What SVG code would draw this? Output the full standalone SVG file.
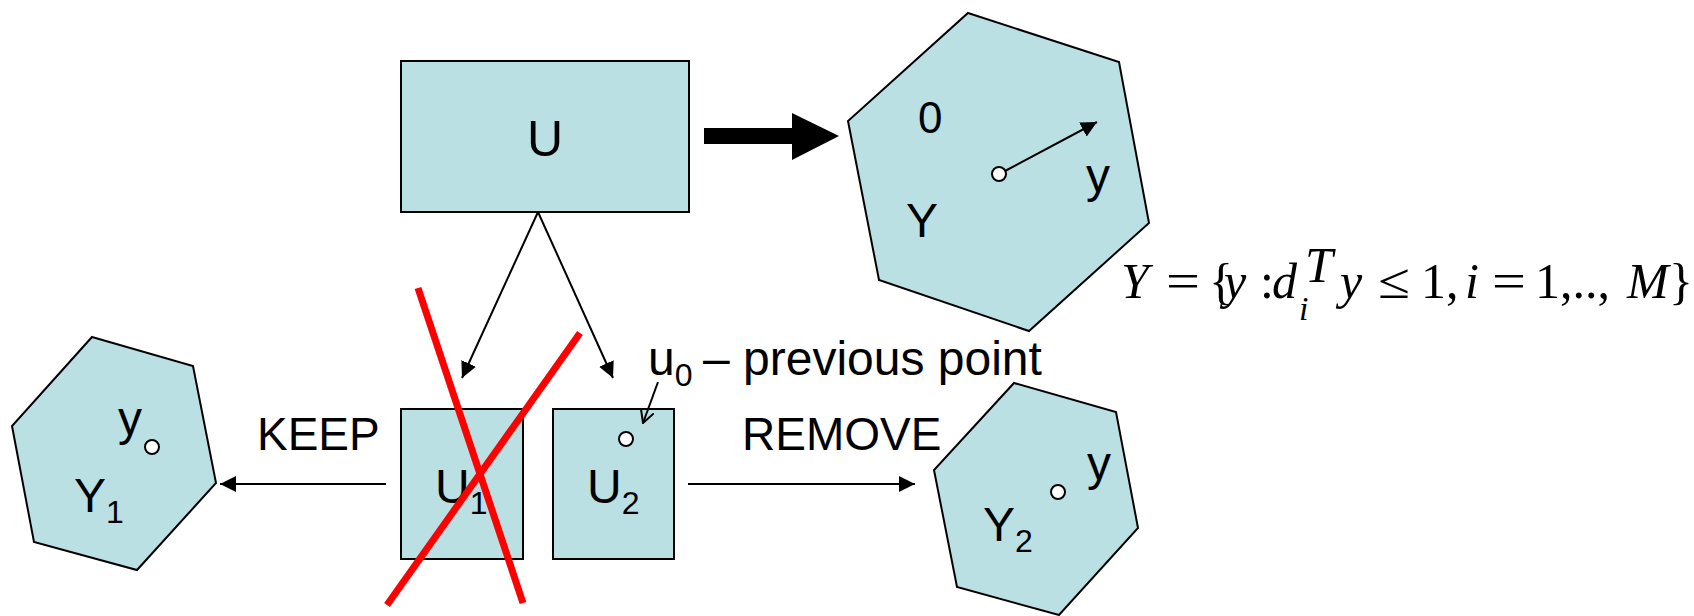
<svg xmlns="http://www.w3.org/2000/svg" width="1694" height="616" viewBox="0 0 1694 616">
<style>
.shape{fill:#BBE0E3;stroke:#000;stroke-width:2}
.lbl{font-family:"Liberation Sans",Arial,sans-serif;fill:#000}
.math{font-family:"Liberation Serif","Times New Roman",serif;fill:#000;font-size:50px}
.it{font-style:italic}
.sm{font-size:34px}
.dot{fill:#fff;stroke:#000;stroke-width:2}
.conn{stroke:#000;stroke-width:2;fill:none}
.red{stroke:#FF0000;stroke-width:7;fill:none}
</style>
<defs>
<marker id="ah" viewBox="0 0 16 16" refX="16" refY="8" markerWidth="16" markerHeight="16" markerUnits="userSpaceOnUse" orient="auto">
<path d="M0,0 L16,8 L0,16 Z" fill="#000"/>
</marker>
<marker id="open" viewBox="0 0 14 14" refX="13" refY="7" markerWidth="14" markerHeight="14" markerUnits="userSpaceOnUse" orient="auto">
<path d="M0,0 L13,7 L0,14" fill="none" stroke="#000" stroke-width="2"/>
</marker>
</defs>

<g id="node-U">
<rect class="shape" x="401" y="61" width="288" height="151"/>
<text class="lbl" x="545" y="156" font-size="50" text-anchor="middle">U</text>
</g>

<g id="node-Y">
<polygon class="shape" points="968,13 1119,62 1149,223 1029,331 879,280 848,121"/>
<text class="lbl" x="918" y="133" font-size="44">0</text>
<text class="lbl" x="1086" y="192" font-size="48">y</text>
<text class="lbl" x="906" y="237" font-size="48">Y</text>
<circle class="dot" cx="999" cy="174" r="7"/>
</g>

<g id="formula">
<text class="math it" x="1121" y="298">Y</text>
<text class="math" x="1166" y="298" textLength="34" lengthAdjust="spacingAndGlyphs">=</text>
<text class="math" x="1209" y="298">{</text>
<text class="math it" x="1224" y="298">y</text>
<text class="math" x="1260" y="298">:</text>
<text class="math it" x="1272" y="298">d</text>
<text class="math it sm" x="1299" y="320">i</text>
<text class="math it" x="1305" y="282" font-size="36">T</text>
<text class="math it" x="1340" y="298">y</text>
<text class="math" x="1378" y="298" textLength="32" lengthAdjust="spacingAndGlyphs">≤</text>
<text class="math" x="1421" y="298">1,</text>
<text class="math it" x="1465" y="298">i</text>
<text class="math" x="1492" y="298" textLength="34" lengthAdjust="spacingAndGlyphs">=</text>
<text class="math" x="1535" y="298">1,..,</text>
<text class="math it" x="1627" y="298">M</text>
<text class="math" x="1669" y="298">}</text>
</g>

<g id="node-U1">
<rect class="shape" x="401" y="409" width="122" height="150"/>
<text class="lbl" x="435" y="503" font-size="48">U<tspan font-size="32" dy="11">1</tspan></text>
</g>

<g id="node-U2">
<rect class="shape" x="553" y="409" width="121" height="150"/>
<text class="lbl" x="587" y="503" font-size="48">U<tspan font-size="32" dy="11">2</tspan></text>
<circle class="dot" cx="626" cy="439" r="7"/>
</g>

<g id="node-Y1">
<polygon class="shape" points="92,337 193,366 216,483 137,570 34,542 12,426"/>
<text class="lbl" x="118" y="435" font-size="48">y</text>
<circle class="dot" cx="152" cy="447" r="7"/>
<text class="lbl" x="74" y="512" font-size="48">Y<tspan font-size="32" dy="11">1</tspan></text>
</g>

<g id="node-Y2">
<polygon class="shape" points="1014,383 1116,412 1138,528 1059,615 957,587 934,470"/>
<text class="lbl" x="1087" y="480" font-size="48">y</text>
<circle class="dot" cx="1058" cy="492" r="7"/>
<text class="lbl" x="983" y="541" font-size="48">Y<tspan font-size="32" dy="11">2</tspan></text>
</g>

<g id="labels">
<text class="lbl" x="257" y="450" font-size="46">KEEP</text>
<text class="lbl" x="742" y="450" font-size="46">REMOVE</text>
<text class="lbl" x="648" y="375" font-size="48">u<tspan font-size="32" dy="11">0</tspan></text>
<text class="lbl" x="703" y="375" font-size="48">– previous point</text>
</g>

<g id="connectors">
<path d="M704,128 L792,128 L792,113 L839,136 L792,160 L792,144 L704,144 Z" fill="#000"/>
<line class="conn" x1="1005" y1="171" x2="1097" y2="122" marker-end="url(#ah)"/>
<line class="conn" x1="538" y1="212" x2="462" y2="378" marker-end="url(#ah)"/>
<line class="conn" x1="538" y1="212" x2="613" y2="378" marker-end="url(#ah)"/>
<line class="conn" x1="658" y1="382" x2="643" y2="423" marker-end="url(#open)"/>
<line class="conn" x1="386" y1="484" x2="220" y2="484" marker-end="url(#ah)"/>
<line class="conn" x1="688" y1="484" x2="915" y2="484" marker-end="url(#ah)"/>
</g>

<g id="cross">
<line class="red" x1="418" y1="288" x2="523" y2="603"/>
<line class="red" x1="580" y1="333" x2="387" y2="605"/>
</g>
</svg>
